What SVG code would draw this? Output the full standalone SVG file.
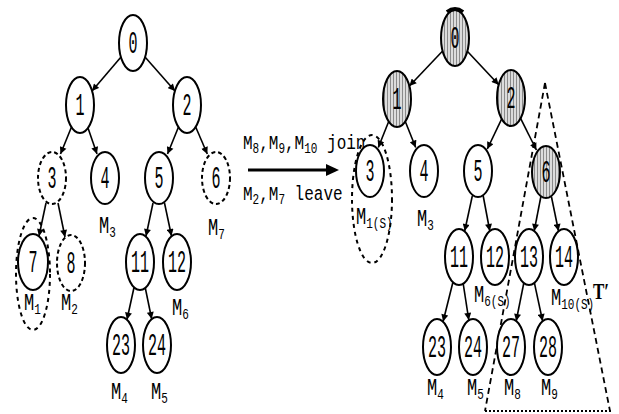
<svg xmlns="http://www.w3.org/2000/svg" width="619" height="414" viewBox="0 0 619 414">
<defs>
<marker id="ah" viewBox="0 0 10 10" refX="10" refY="5" markerWidth="8" markerHeight="7" markerUnits="userSpaceOnUse" orient="auto"><path d="M0,0 L10,5 L0,10 z" fill="#000"/></marker>
<pattern id="hatch" width="3" height="4" patternUnits="userSpaceOnUse"><rect width="3" height="4" fill="#dcdcdc"/><rect width="1" height="4" fill="#8a8a8a"/></pattern>
<style>
.n{fill:#fff;stroke:#000;stroke-width:2}
.nd{fill:#fff;stroke:#000;stroke-width:2;stroke-dasharray:4 3}
.g{fill:url(#hatch);stroke:#000;stroke-width:2}
.ring{fill:none;stroke:#000;stroke-width:2;stroke-dasharray:4 4}
.e{stroke:#000;stroke-width:1.6;fill:none;marker-end:url(#ah)}
.d{font-family:"Liberation Mono","DejaVu Sans Mono",monospace;font-size:15px;text-anchor:middle;fill:#000}
.l{font-family:"Liberation Mono","DejaVu Sans Mono",monospace;font-size:16px;fill:#000}
.m{font-family:"Liberation Mono","DejaVu Sans Mono",monospace;font-size:17px;fill:#000}
.s{font-size:11px}
</style>
</defs>

<!-- ============ LEFT TREE ============ -->
<ellipse id="L7ring" class="ring" cx="33" cy="274" rx="17" ry="56"/>
<g id="L0"><ellipse class="n" cx="133" cy="43" rx="14" ry="28"/><text class="d" transform="translate(133,43) scale(1,2.1)" y="4.7">0</text></g>
<g id="L1"><ellipse class="n" cx="80" cy="105" rx="14" ry="28"/><text class="d" transform="translate(80,105) scale(1,2.1)" y="4.7">1</text></g>
<g id="L2"><ellipse class="n" cx="187" cy="105" rx="14" ry="28"/><text class="d" transform="translate(187,105) scale(1,2.1)" y="4.7">2</text></g>
<g id="L3"><ellipse class="nd" cx="52" cy="178" rx="14" ry="26"/><text class="d" transform="translate(52,178) scale(1,2.1)" y="4.7">3</text></g>
<g id="L4"><ellipse class="n" cx="105" cy="178" rx="14" ry="26"/><text class="d" transform="translate(105,178) scale(1,2.1)" y="4.7">4</text></g>
<g id="L5"><ellipse class="n" cx="159" cy="178" rx="14" ry="26"/><text class="d" transform="translate(159,178) scale(1,2.1)" y="4.7">5</text></g>
<g id="L6"><ellipse class="nd" cx="216" cy="178" rx="14" ry="26"/><text class="d" transform="translate(216,178) scale(1,2.1)" y="4.7">6</text></g>
<g id="L7"><ellipse class="n" cx="33" cy="262" rx="15" ry="28"/><text class="d" transform="translate(33,262) scale(1,2.1)" y="4.7">7</text></g>
<g id="L8"><ellipse class="nd" cx="71" cy="263" rx="14" ry="28"/><text class="d" transform="translate(71,263) scale(1,2.1)" y="4.7">8</text></g>
<g id="L11"><ellipse class="n" cx="140" cy="262" rx="14" ry="28"/><text class="d" transform="translate(140,262) scale(1,2.1)" y="4.7">11</text></g>
<g id="L12"><ellipse class="n" cx="177" cy="262" rx="14" ry="28"/><text class="d" transform="translate(177,262) scale(1,2.1)" y="4.7">12</text></g>
<g id="L23"><ellipse class="n" cx="121" cy="345" rx="14" ry="28"/><text class="d" transform="translate(121,345) scale(1,2.1)" y="4.7">23</text></g>
<g id="L24"><ellipse class="n" cx="157" cy="345" rx="14" ry="28"/><text class="d" transform="translate(157,345) scale(1,2.1)" y="4.7">24</text></g>

<g id="left-labels">
<text class="m" transform="translate(24,310) scale(1,1.4)">M<tspan class="s" dy="3">1</tspan></text>
<text class="m" transform="translate(61,310) scale(1,1.4)">M<tspan class="s" dy="3">2</tspan></text>
<text class="m" transform="translate(99,233) scale(1,1.4)">M<tspan class="s" dy="3">3</tspan></text>
<text class="m" transform="translate(208,235) scale(1,1.4)">M<tspan class="s" dy="3">7</tspan></text>
<text class="m" transform="translate(172,315) scale(1,1.4)">M<tspan class="s" dy="3">6</tspan></text>
<text class="m" transform="translate(111,399) scale(1,1.4)">M<tspan class="s" dy="3">4</tspan></text>
<text class="m" transform="translate(151,399) scale(1,1.4)">M<tspan class="s" dy="3">5</tspan></text>
</g>

<!-- ============ MIDDLE ARROW ============ -->
<g id="transition">
<text class="l" transform="translate(243,149) scale(1,1.25)">M<tspan class="s" dy="3">8</tspan><tspan dy="-3">,M</tspan><tspan class="s" dy="3">9</tspan><tspan dy="-3">,M</tspan><tspan class="s" dy="3">10</tspan><tspan dy="-3"> join</tspan></text>
<line x1="248" y1="170" x2="328" y2="170" stroke="#000" stroke-width="3"/>
<polygon points="339,170 326,164 326,176" fill="#000"/>
<text class="l" transform="translate(243,200) scale(1,1.25)">M<tspan class="s" dy="3">2</tspan><tspan dy="-3">,M</tspan><tspan class="s" dy="3">7</tspan><tspan dy="-3"> leave</tspan></text>
</g>

<!-- ============ RIGHT TREE ============ -->
<ellipse id="R3ring" class="ring" cx="372" cy="199" rx="20" ry="64"/>
<g id="Tprime">
<line x1="545" y1="83" x2="485" y2="411" stroke="#000" stroke-width="1.8" stroke-dasharray="6 4"/>
<line x1="545" y1="83" x2="610" y2="411" stroke="#000" stroke-width="1.8" stroke-dasharray="6 4"/>
<line x1="485" y1="411" x2="612" y2="411" stroke="#000" stroke-width="1.8" stroke-dasharray="2 2"/>
<text font-family="'Liberation Serif',serif" font-size="17" font-weight="bold" transform="translate(593,299) scale(1,1.3)">T′</text>
</g>
<g id="R0"><ellipse class="g" cx="455" cy="38" rx="14" ry="28"/><path d="M447,12 Q455,6 463,12" stroke="#000" stroke-width="4" fill="none"/><text class="d" transform="translate(455,38) scale(1,2.1)" y="4.7">0</text></g>
<g id="R1"><ellipse class="g" cx="397" cy="99" rx="14" ry="28"/><text class="d" transform="translate(397,99) scale(1,2.1)" y="4.7">1</text></g>
<g id="R2"><ellipse class="g" cx="511" cy="98" rx="14" ry="28"/><text class="d" transform="translate(511,98) scale(1,2.1)" y="4.7">2</text></g>
<g id="R3"><ellipse class="n" cx="370" cy="171" rx="14" ry="26"/><text class="d" transform="translate(370,171) scale(1,2.1)" y="4.7">3</text></g>
<g id="R4"><ellipse class="n" cx="424" cy="171" rx="14" ry="26"/><text class="d" transform="translate(424,171) scale(1,2.1)" y="4.7">4</text></g>
<g id="R5"><ellipse class="n" cx="478" cy="171" rx="14" ry="26"/><text class="d" transform="translate(478,171) scale(1,2.1)" y="4.7">5</text></g>
<g id="R6"><ellipse class="g" cx="546" cy="172" rx="14" ry="26"/><text class="d" transform="translate(546,172) scale(1,2.1)" y="4.7">6</text></g>
<g id="R11"><ellipse class="n" cx="459" cy="257" rx="14" ry="28"/><text class="d" transform="translate(459,257) scale(1,2.1)" y="4.7">11</text></g>
<g id="R12"><ellipse class="n" cx="495" cy="257" rx="14" ry="28"/><text class="d" transform="translate(495,257) scale(1,2.1)" y="4.7">12</text></g>
<g id="R13"><ellipse class="n" cx="529" cy="257" rx="14" ry="28"/><text class="d" transform="translate(529,257) scale(1,2.1)" y="4.7">13</text></g>
<g id="R14"><ellipse class="n" cx="564" cy="257" rx="14" ry="28"/><text class="d" transform="translate(564,257) scale(1,2.1)" y="4.7">14</text></g>
<g id="R23"><ellipse class="n" cx="437" cy="347" rx="14" ry="28"/><text class="d" transform="translate(437,347) scale(1,2.1)" y="4.7">23</text></g>
<g id="R24"><ellipse class="n" cx="473" cy="347" rx="14" ry="28"/><text class="d" transform="translate(473,347) scale(1,2.1)" y="4.7">24</text></g>
<g id="R27"><ellipse class="n" cx="511" cy="347" rx="14" ry="28"/><text class="d" transform="translate(511,347) scale(1,2.1)" y="4.7">27</text></g>
<g id="R28"><ellipse class="n" cx="548" cy="347" rx="14" ry="28"/><text class="d" transform="translate(548,347) scale(1,2.1)" y="4.7">28</text></g>

<g id="right-labels">
<text class="m" transform="translate(356,224) scale(1,1.4)">M<tspan class="s" font-size="10" dy="3">1(S)</tspan></text>
<text class="m" transform="translate(417,226) scale(1,1.4)">M<tspan class="s" dy="3">3</tspan></text>
<text class="m" transform="translate(474,302) scale(1,1.4)">M<tspan class="s" font-size="10" dy="3">6(S)</tspan></text>
<text class="m" transform="translate(551,305) scale(1,1.4)">M<tspan class="s" font-size="10" dy="3">10(S)</tspan></text>
<text class="m" transform="translate(427,395) scale(1,1.4)">M<tspan class="s" dy="3">4</tspan></text>
<text class="m" transform="translate(467,395) scale(1,1.4)">M<tspan class="s" dy="3">5</tspan></text>
<text class="m" transform="translate(504,395) scale(1,1.4)">M<tspan class="s" dy="3">8</tspan></text>
<text class="m" transform="translate(541,395) scale(1,1.4)">M<tspan class="s" dy="3">9</tspan></text>
</g>

<!-- ============ CONNECTORS ============ -->
<g id="connectors">
<line class="e" x1="121" y1="57" x2="92" y2="91"/>
<line class="e" x1="145" y1="57" x2="175" y2="91"/>
<line class="e" x1="71.5" y1="127" x2="60.5" y2="154"/>
<line class="e" x1="88" y1="128" x2="97" y2="154"/>
<line class="e" x1="178.5" y1="127" x2="167.5" y2="154"/>
<line class="e" x1="195.7" y1="127" x2="207.3" y2="154"/>
<line class="e" x1="46" y1="203" x2="39" y2="236"/>
<line class="e" x1="58" y1="203" x2="65" y2="237"/>
<line class="e" x1="153" y1="203" x2="146" y2="236"/>
<line class="e" x1="164.5" y1="203" x2="171.5" y2="236"/>
<line class="e" x1="134" y1="287.5" x2="127" y2="319.5"/>
<line class="e" x1="145.3" y1="288" x2="151.7" y2="319"/>

<line class="e" x1="442.6" y1="51" x2="409.4" y2="86"/>
<line class="e" x1="467.3" y1="51.2" x2="498.7" y2="84.8"/>
<line class="e" x1="388.7" y1="121.5" x2="378.3" y2="147.5"/>
<line class="e" x1="405.3" y1="121.5" x2="415.7" y2="147.5"/>
<line class="e" x1="501.7" y1="118.9" x2="487.3" y2="149"/>
<line class="e" x1="520.6" y1="118.4" x2="536.4" y2="150"/>
<line class="e" x1="472.3" y1="196" x2="464.7" y2="231"/>
<line class="e" x1="483.2" y1="196" x2="489.8" y2="231"/>
<line class="e" x1="540.8" y1="197" x2="534.2" y2="231"/>
<line class="e" x1="551.5" y1="197" x2="558.5" y2="231"/>
<line class="e" x1="452.9" y1="282.2" x2="443.1" y2="321.5"/>
<line class="e" x1="463.2" y1="283.7" x2="468.8" y2="320"/>
<line class="e" x1="523.8" y1="283" x2="516.2" y2="321"/>
<line class="e" x1="534.4" y1="282.8" x2="542.6" y2="321"/>
</g>
</svg>
